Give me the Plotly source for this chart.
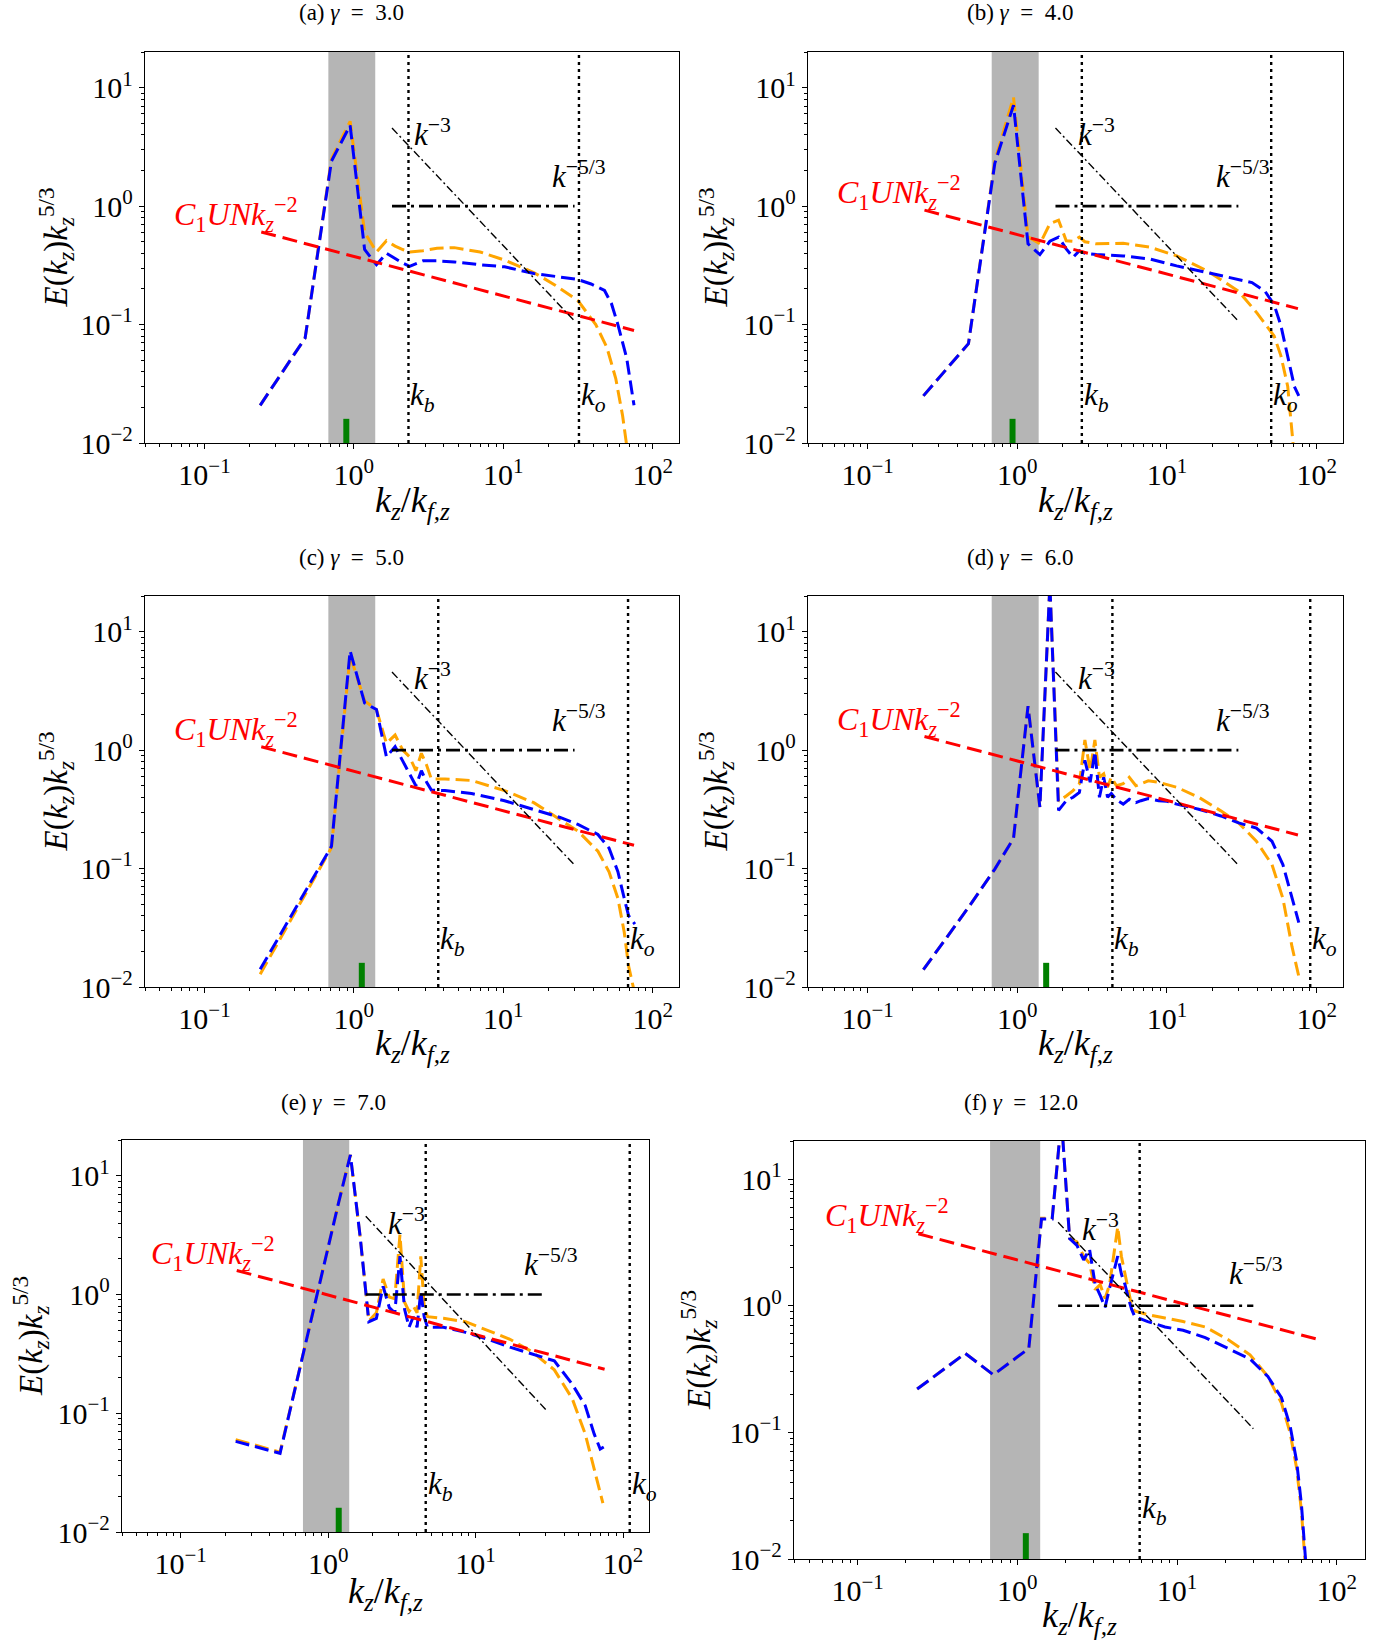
import math
import plotly.graph_objects as go

W = 1390
H_REF = 1642          # reference picture height (pixel positions below are in this frame)
H = 1659              # figure height (the photograph comes out ~1659px tall)
FONT = "Liberation Serif"

# ---------------- data ----------------
panel_ids = ["a", "b", "c", "d", "e", "f"]
gammas = ["3.0", "4.0", "5.0", "6.0", "7.0", "12.0"]

# panel (a)
x_a_blue = [0.236, 0.472, 0.708, 0.944, 1.18, 1.416, 1.652, 1.888, 2.124, 2.36, 2.9, 3.6, 4.7, 7.0, 10.2, 16, 22.4, 31.6, 38.7, 47.6, 53, 58.5, 67, 75]
y_a_blue = [0.0208, 0.077, 2.4, 4.8, 0.43, 0.32, 0.40, 0.36, 0.33, 0.31, 0.345, 0.345, 0.338, 0.32, 0.307, 0.27, 0.255, 0.24, 0.22, 0.194, 0.15, 0.1, 0.052, 0.0208]
x_a_orange = [0.236, 0.472, 0.708, 0.944, 1.18, 1.416, 1.652, 1.888, 2.124, 2.36, 2.9, 3.6, 4.7, 7.0, 10.2, 16, 22.4, 31.6, 41.6, 49.4, 56.6, 62.9, 67, 70]
y_a_orange = [0.0208, 0.077, 2.5, 5.2, 0.6, 0.41, 0.51, 0.46, 0.43, 0.41, 0.42, 0.44, 0.446, 0.41, 0.35, 0.275, 0.214, 0.159, 0.1, 0.064, 0.035, 0.017, 0.0095, 0.006]

# panel (b)
x_b_blue = [0.236, 0.472, 0.708, 0.944, 1.18, 1.416, 1.652, 1.888, 2.124, 2.36, 2.6, 2.83, 3.38, 5.1, 7.7, 11.6, 18.6, 26.3, 37, 45.3, 52, 57.6, 64.1, 71, 76]
y_b_blue = [0.025, 0.069, 2.3, 7.1, 0.48, 0.39, 0.505, 0.547, 0.435, 0.37, 0.42, 0.4, 0.39, 0.38, 0.357, 0.313, 0.275, 0.25, 0.226, 0.19, 0.147, 0.099, 0.052, 0.03, 0.025]
x_b_orange = [0.236, 0.472, 0.708, 0.944, 1.18, 1.416, 1.652, 1.888, 2.124, 2.36, 2.6, 2.83, 3.38, 5.1, 7.7, 11.6, 18.6, 30.1, 40, 52, 57.6, 64.1, 68.6, 72]
y_b_orange = [0.025, 0.069, 2.4, 8.3, 0.55, 0.48, 0.71, 0.76, 0.51, 0.505, 0.547, 0.5, 0.48, 0.486, 0.45, 0.38, 0.284, 0.191, 0.125, 0.08, 0.055, 0.03, 0.012, 0.006]

# panel (c)
x_c_blue = [0.236, 0.472, 0.708, 0.944, 1.18, 1.416, 1.652, 1.888, 2.124, 2.36, 2.6, 2.83, 3.07, 3.3, 4.07, 6.13, 10.2, 16, 24, 31.6, 43, 51, 58.5, 64.5, 69, 76]
y_c_blue = [0.0141, 0.064, 0.154, 6.9, 2.5, 2.2, 0.877, 1.07, 0.82, 0.63, 0.5, 0.67, 0.536, 0.46, 0.455, 0.43, 0.374, 0.317, 0.27, 0.236, 0.194, 0.149, 0.094, 0.056, 0.04, 0.034]
x_c_orange = [0.236, 0.472, 0.708, 0.944, 1.18, 1.416, 1.652, 1.888, 2.124, 2.36, 2.6, 2.83, 3.07, 3.3, 4.07, 6.13, 10.2, 16, 24, 31.6, 43, 51, 58.5, 64.5, 69, 74, 77]
y_c_orange = [0.0128, 0.06, 0.15, 6.3, 2.6, 2.2, 1.14, 1.34, 1.0, 0.877, 0.67, 0.94, 0.745, 0.57, 0.57, 0.554, 0.455, 0.36, 0.26, 0.207, 0.14, 0.094, 0.056, 0.029, 0.015, 0.0101, 0.007]

# panel (d)
x_d_blue = [0.236, 0.472, 0.708, 0.944, 1.18, 1.416, 1.652, 1.888, 2.124, 2.36, 2.6, 2.83, 3.07, 3.3, 3.54, 3.78, 4.01, 4.25, 4.6, 5.1, 5.6, 6.2, 6.7, 7.5, 8.8, 10, 11.6, 16.3, 22.9, 30.1, 39.6, 50.3, 59.5, 68.4, 76]
y_d_blue = [0.014, 0.047, 0.099, 0.18, 2.35, 0.33, 25, 0.31, 0.374, 0.4, 0.44, 0.82, 0.536, 0.97, 0.4, 0.59, 0.4, 0.43, 0.38, 0.35, 0.385, 0.36, 0.374, 0.39, 0.374, 0.37, 0.35, 0.317, 0.278, 0.243, 0.22, 0.17, 0.108, 0.056, 0.035]
x_d_orange = [0.236, 0.472, 0.708, 0.944, 1.18, 1.416, 1.652, 1.888, 2.124, 2.36, 2.6, 2.83, 3.07, 3.3, 3.54, 3.78, 4.01, 4.25, 4.6, 5.1, 5.6, 6.2, 6.7, 7.5, 8.8, 10, 11.6, 16.3, 22.9, 30.1, 39.6, 50.3, 59.5, 68.4, 76]
y_d_orange = [0.014, 0.047, 0.099, 0.18, 2.35, 0.33, 25, 0.37, 0.41, 0.455, 0.52, 1.22, 0.67, 1.22, 0.59, 0.63, 0.486, 0.59, 0.5, 0.52, 0.59, 0.5, 0.52, 0.55, 0.535, 0.51, 0.486, 0.4, 0.307, 0.243, 0.17, 0.108, 0.056, 0.022, 0.0123]

# panel (e)
x_e_blue = [0.236, 0.472, 0.708, 0.944, 1.18, 1.416, 1.652, 1.888, 2.124, 2.36, 2.6, 2.83, 3.07, 3.3, 3.54, 3.78, 4.01, 4.25, 4.48, 4.72, 6.05, 8.55, 12.1, 17.1, 24.1, 34.2, 45.2, 55.4, 63.7, 70, 74]
y_e_blue = [0.058, 0.046, 0.4, 1.86, 6.0, 15, 3.0, 0.59, 0.63, 1.17, 0.775, 0.7, 2.1, 0.75, 0.53, 0.65, 0.53, 1.06, 0.65, 0.53, 0.53, 0.48, 0.42, 0.36, 0.316, 0.276, 0.176, 0.116, 0.067, 0.05, 0.052]
x_e_orange = [0.236, 0.472, 0.708, 0.944, 1.18, 1.416, 1.652, 1.888, 2.124, 2.36, 2.6, 2.83, 3.07, 3.3, 3.54, 3.78, 4.01, 4.25, 4.48, 4.72, 6.05, 8.55, 12.1, 17.1, 24.1, 34.2, 45.2, 55.4, 63.7, 68, 73]
y_e_orange = [0.06, 0.047, 0.4, 1.86, 6.0, 15, 3.0, 0.6, 0.7, 1.35, 0.95, 0.92, 3.2, 0.86, 0.72, 0.8, 0.7, 2.1, 0.8, 0.65, 0.63, 0.59, 0.5, 0.42, 0.33, 0.232, 0.133, 0.067, 0.034, 0.024, 0.0175]

# panel (f)
x_f_blue = [0.236, 0.472, 0.708, 0.944, 1.18, 1.416, 1.652, 1.888, 2.124, 2.36, 2.6, 2.83, 3.07, 3.3, 3.54, 3.78, 4.01, 4.25, 4.48, 4.72, 4.96, 5.19, 5.43, 6.55, 8.4, 10.9, 15, 20.8, 28.6, 37, 45, 51, 56, 60, 62.7, 65]
y_f_blue = [0.22, 0.42, 0.285, 0.37, 0.46, 4.84, 4.84, 30, 3.4, 3.0, 2.3, 2.8, 1.47, 1.21, 0.97, 1.38, 1.9, 2.46, 1.78, 1.47, 1.14, 0.94, 0.82, 0.75, 0.68, 0.64, 0.56, 0.46, 0.38, 0.276, 0.188, 0.112, 0.059, 0.027, 0.0118, 0.007]
x_f_orange = [0.236, 0.472, 0.708, 0.944, 1.18, 1.416, 1.652, 1.888, 2.124, 2.36, 2.6, 2.83, 3.07, 3.3, 3.54, 3.78, 4.01, 4.25, 4.48, 4.72, 4.96, 5.19, 5.43, 6.55, 8.4, 10.9, 15, 20.8, 28.6, 37, 45, 51, 56, 60, 62.7, 65]
y_f_orange = [0.22, 0.42, 0.285, 0.37, 0.46, 4.9, 4.9, 30, 3.4, 3.2, 2.46, 2.16, 1.34, 1.47, 1.14, 1.47, 2.46, 4.2, 2.46, 1.78, 1.25, 1.0, 0.91, 0.85, 0.8, 0.75, 0.68, 0.54, 0.41, 0.276, 0.17, 0.099, 0.052, 0.024, 0.011, 0.006]

# reference lines / markers per panel
k_b = [2.32, 2.70, 3.67, 4.32, 4.59, 5.83]
k_o = [32.1, 49.7, 68.4, 90.6, 111.0, None]
k_green = [0.89, 0.93, 1.13, 1.56, 1.18, 1.13]
green_top = 0.016
band_lo, band_hi = 0.675, 1.39
c1un_amp = [0.376, 0.575, 0.663, 0.81, 0.99, 2.3]   # C1UN k^-2 compensated: y = A k^(-1/3)
c1un_x = [0.24, 75]
km3_x = [1.8, 30]
km3_y = [4.56, 0.107]
k53_x = [1.8, 30]
k53_y = [1.0, 1.0]

blue_x = [x_a_blue, x_b_blue, x_c_blue, x_d_blue, x_e_blue, x_f_blue]
blue_y = [y_a_blue, y_b_blue, y_c_blue, y_d_blue, y_e_blue, y_f_blue]
orange_x = [x_a_orange, x_b_orange, x_c_orange, x_d_orange, x_e_orange, x_f_orange]
orange_y = [y_a_orange, y_b_orange, y_c_orange, y_d_orange, y_e_orange, y_f_orange]

xtick_vals = [0.1, 1, 10, 100]
xtick_text = ["10<sup>−1</sup>", "10<sup>0</sup>", "10<sup>1</sup>", "10<sup>2</sup>"]
ytick_vals = [0.01, 0.1, 1, 10]
ytick_text = ["10<sup>−2</sup>", "10<sup>−1</sup>", "10<sup>0</sup>", "10<sup>1</sup>"]

# ---------------- layout geometry (pixels in the reference frame) ----------------
rects = [(145, 52, 679, 443), (808, 52, 1343, 443),
         (145, 596, 679, 987), (808, 596, 1343, 987),
         (122, 1140, 649, 1532), (794, 1141, 1365, 1559)]
title_pos = [(351, 13), (1020, 13), (351, 557), (1020, 557), (333, 1102), (1021, 1102)]
ylabel_x = [56, 716, 56, 716, 30, 698]
xlabel_y = [502, 502, 1045, 1045, 1593, 1617]

XR = [math.log10(0.04), math.log10(150)]
YR = [-2, math.log10(20)]

minor_x = [m * 10 ** e for e in range(-2, 3) for m in range(2, 10)]
minor_y = [m * 10 ** e for e in range(-3, 2) for m in range(2, 10)]

fig = go.Figure()
annotations = []
shapes = []


def px_x(p):
    return p / W


def px_y(p):
    return 1 - p / H_REF


for i, pid in enumerate(panel_ids):
    n = "" if i == 0 else str(i + 1)
    xa, ya = "x" + n, "y" + n
    x0, y0, x1, y1 = rects[i]
    axcommon = dict(type="log", showline=True, linecolor="black", linewidth=1.3, mirror=True,
                    ticks="outside", ticklen=5, tickwidth=1.2, tickcolor="black",
                    showgrid=False, zeroline=False, tickmode="array",
                    tickfont=dict(family=FONT, size=30, color="black"),
                    minor=dict(ticks="outside", ticklen=3, tickwidth=1, tickcolor="black",
                               showgrid=False, tickmode="array"))
    xax = dict(axcommon, domain=[px_x(x0), px_x(x1)], range=XR, anchor=ya,
               tickvals=xtick_vals, ticktext=xtick_text)
    xax["minor"] = dict(axcommon["minor"], tickvals=minor_x)
    yax = dict(axcommon, domain=[px_y(y1), px_y(y0)], range=YR, anchor=xa,
               tickvals=ytick_vals, ticktext=ytick_text)
    yax["minor"] = dict(axcommon["minor"], tickvals=minor_y)
    fig.update_layout({"xaxis" + n: xax, "yaxis" + n: yax})

    # forcing band (shapes on log axes take data values)
    shapes.append(dict(type="rect", xref=xa, yref=ya + " domain",
                       x0=band_lo, x1=band_hi, y0=0, y1=1,
                       fillcolor="rgb(181,181,181)", line=dict(width=0), layer="below"))
    # dotted vertical lines
    for kv in (k_b[i], k_o[i]):
        if kv is not None:
            shapes.append(dict(type="line", xref=xa, yref=ya + " domain",
                               x0=kv, x1=kv, y0=0, y1=1,
                               line=dict(color="black", width=2.4, dash="3px,4px")))

    # green marker
    fig.add_trace(go.Scatter(x=[k_green[i], k_green[i]], y=[0.01, green_top], xaxis=xa, yaxis=ya,
                             mode="lines", line=dict(color="green", width=6), hoverinfo="skip"))
    # spectra
    fig.add_trace(go.Scatter(x=orange_x[i], y=orange_y[i], xaxis=xa, yaxis=ya, mode="lines",
                             line=dict(color="orange", width=3, dash="14px,6px")))
    fig.add_trace(go.Scatter(x=blue_x[i], y=blue_y[i], xaxis=xa, yaxis=ya, mode="lines",
                             line=dict(color="blue", width=3, dash="14px,6px")))
    # C1 U N k^-2 reference
    red_y = [c1un_amp[i] * xx ** (-1.0 / 3.0) for xx in c1un_x]
    fig.add_trace(go.Scatter(x=c1un_x, y=red_y, xaxis=xa, yaxis=ya, mode="lines",
                             line=dict(color="red", width=3, dash="15px,7px")))
    # k^-3 and k^-5/3 references
    fig.add_trace(go.Scatter(x=km3_x, y=km3_y, xaxis=xa, yaxis=ya, mode="lines",
                             line=dict(color="black", width=1.4, dash="8px,3px,2px,3px")))
    fig.add_trace(go.Scatter(x=k53_x, y=k53_y, xaxis=xa, yaxis=ya, mode="lines",
                             line=dict(color="black", width=2.6, dash="14px,5px,3px,5px")))

    tf = dict(family=FONT, size=31, color="black")
    # labels in data coords (annotations on log axes take log units)
    annotations.append(dict(text="<i>k</i><sup>−3</sup>", xref=xa, yref=ya,
                            x=math.log10(2.45), y=math.log10(4.15), xanchor="left", yanchor="middle",
                            showarrow=False, font=tf))
    annotations.append(dict(text="<i>k</i><sup>−5/3</sup>", xref=xa, yref=ya,
                            x=math.log10(20.5), y=math.log10(1.85), xanchor="left", yanchor="middle",
                            showarrow=False, font=tf))
    annotations.append(dict(text="<i>k<sub>b</sub></i>", xref=xa, yref=ya,
                            x=math.log10(k_b[i]), y=math.log10(0.0245), xanchor="left", yanchor="middle",
                            showarrow=False, font=tf))
    if k_o[i] is not None:
        annotations.append(dict(text="<i>k<sub>o</sub></i>", xref=xa, yref=ya,
                                x=math.log10(k_o[i]), y=math.log10(0.0245), xanchor="left",
                                yanchor="middle", showarrow=False, font=tf))
    red_lbl_y = 1.4 * c1un_amp[i] * 0.24 ** (-1.0 / 3.0)
    annotations.append(dict(text="<i>C</i><sub>1</sub><i>UNk</i><sub><i>z</i></sub><sup>−2</sup>",
                            xref=xa, yref=ya, x=math.log10(0.061), y=math.log10(red_lbl_y),
                            xanchor="left", yanchor="middle", showarrow=False,
                            font=dict(family=FONT, size=32, color="red")))

    # subfigure caption
    tx, ty = title_pos[i]
    annotations.append(dict(text="(" + pid + ") <i>γ</i>\u2002=\u2002" + gammas[i],
                            xref="paper", yref="paper", x=px_x(tx), y=px_y(ty),
                            xanchor="center", yanchor="middle", showarrow=False,
                            font=dict(family=FONT, size=23, color="black")))
    # axis labels
    annotations.append(dict(text="<i>k<sub>z</sub></i>/<i>k<sub>f,z</sub></i>",
                            xref="paper", yref="paper", x=px_x((x0 + x1) / 2), y=px_y(xlabel_y[i]),
                            xanchor="center", yanchor="middle", showarrow=False,
                            font=dict(family=FONT, size=36, color="black")))
    annotations.append(dict(text="<i>E</i>(<i>k<sub>z</sub></i>)<i>k<sub>z</sub></i><sup>5/3</sup>",
                            xref="paper", yref="paper", x=px_x(ylabel_x[i]), y=px_y((y0 + y1) / 2),
                            xanchor="center", yanchor="middle", textangle=-90, showarrow=False,
                            font=dict(family=FONT, size=33, color="black")))

fig.update_layout(width=W, height=H, margin=dict(l=0, r=0, t=0, b=0),
                  paper_bgcolor="white", plot_bgcolor="white", showlegend=False,
                  annotations=annotations, shapes=shapes)

fig.write_html("out.html")
